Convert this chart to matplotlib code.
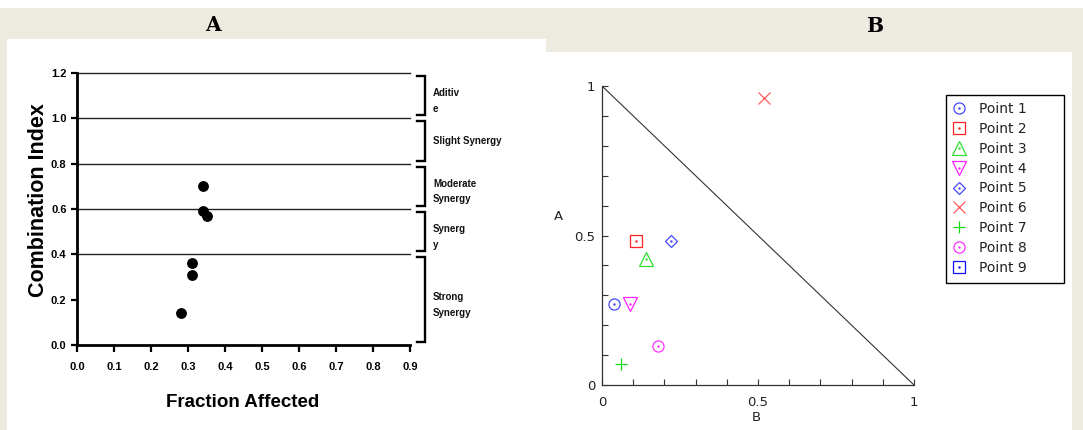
import numpy as np
import matplotlib
matplotlib.use("Agg")
import matplotlib.pyplot as plt
from matplotlib.patches import Rectangle

plt.rcParams['font.family'] = ['Liberation Sans', 'DejaVu Sans']

# panel A: combination index vs fraction affected
fraction_affected = [0.28, 0.31, 0.31, 0.34, 0.35, 0.34]
combination_index = [0.14, 0.31, 0.36, 0.59, 0.57, 0.70]
band_edges = [0.0, 0.4, 0.6, 0.8, 1.0, 1.2]
band_labels = ["Strong\nSynergy", "Synerg\ny", "Moderate\nSynergy",
               "Slight Synergy", "Aditiv\ne"]
fa_ticks = [0.0, 0.1, 0.2, 0.3, 0.4, 0.5, 0.6, 0.7, 0.8, 0.9]
ci_ticks = [0.0, 0.2, 0.4, 0.6, 0.8, 1.0, 1.2]

# panel B: isobologram points
point_names = ["Point 1", "Point 2", "Point 3", "Point 4", "Point 5",
               "Point 6", "Point 7", "Point 8", "Point 9"]
b_vals = [0.04, 0.11, 0.14, 0.09, 0.22, 0.52, 0.06, 0.18, np.nan]
a_vals = [0.27, 0.48, 0.42, 0.27, 0.48, 0.96, 0.07, 0.13, np.nan]
point_markers = ['o', 's', '^', 'v', 'D', 'x', '+', 'o', 's']
point_colors = ['#4646ff', '#ff2020', '#30e030', '#ff20ff', '#4646ff',
                '#ff5a5a', '#10dd10', '#ff30ff', '#1010ff']
marker_sizes = {'o': 8, 's': 8, '^': 10, 'v': 10, 'D': 6.5, 'x': 9, '+': 9}

W, H = 1083, 430


def px_box(x0, y0, x1, y1):
    """pixel box (top-left origin) -> figure fraction rect"""
    return [x0 / W, 1 - y1 / H, (x1 - x0) / W, (y1 - y0) / H]


def fig_rect(x0, y0, x1, y1, z, **kw):
    l, b, w, h = px_box(x0, y0, x1, y1)
    fig.add_artist(Rectangle((l, b), w, h, transform=fig.transFigure,
                             zorder=z, **kw))


fig = plt.figure(figsize=(W / 100, H / 100), dpi=100, facecolor='white')

fig_rect(0, 8, W, H, -3, color='#edeae0', lw=0)
fig_rect(7, 39, 546, H, -2, color='white', lw=0)
fig_rect(546, 52, 1072, H, -2, color='white', lw=0)
# legend box drawn separately so it can be wider than its entries
fig_rect(946, 95, 1064, 283, -1, facecolor='white', edgecolor='black', lw=1.0)

fig.text(213 / W, 1 - 25 / H, 'A', ha='center', va='center',
         family='DejaVu Serif', weight='bold', size=14.5)
fig.text(876 / W, 1 - 26 / H, 'B', ha='center', va='center',
         family='DejaVu Serif', weight='bold', size=14.5)

# ---- panel A ----
axA = fig.add_axes(px_box(77, 73, 410, 345))
axA.set_facecolor('none')
axA.set_xlim(0, 0.9)
axA.set_ylim(0, 1.2)
for y in band_edges[1:]:
    axA.axhline(y, color='#222222', lw=1.0, zorder=1, clip_on=False)
axA.scatter(fraction_affected, combination_index, s=46, color='black',
            zorder=3, clip_on=False)

for lo, hi, lab in zip(band_edges[:-1], band_edges[1:], band_labels):
    top, bot = hi - 0.013, lo + 0.013
    axA.plot([0.919, 0.9405, 0.9405, 0.919], [top, top, bot, bot],
             color='black', lw=1.7, clip_on=False, solid_joinstyle='miter')
    if '\n' in lab:
        axA.text(0.962, (lo + hi) / 2 + 0.032, lab, va='top', ha='left',
                 fontsize=7, weight='bold', linespacing=1.65, color='#111111')
    else:
        axA.text(0.962, (lo + hi) / 2, lab, va='center', ha='left',
                 fontsize=7, weight='bold', color='#111111')

for side in ('top', 'right'):
    axA.spines[side].set_visible(False)
for side in ('left', 'bottom'):
    axA.spines[side].set_linewidth(2.0)
axA.set_xticks(fa_ticks)
axA.set_xticklabels([f"{t:.1f}" for t in fa_ticks], weight='bold')
axA.set_yticks(ci_ticks)
axA.set_yticklabels([f"{t:.1f}" for t in ci_ticks], weight='bold')
axA.tick_params(axis='x', direction='out', length=5, width=1.6, labelsize=8, pad=7)
axA.tick_params(axis='y', direction='out', length=4.5, width=1.6, labelsize=8, pad=3)
axA.set_xlabel('Fraction Affected', weight='bold', fontsize=13.5)
axA.xaxis.set_label_coords(0.4985, -0.18)
axA.set_ylabel('Combination Index', weight='bold', fontsize=15.5)
axA.yaxis.set_label_coords(-0.085, 0.533)

# ---- panel B ----
axB = fig.add_axes(px_box(602, 86, 914, 385))
axB.set_facecolor('none')
axB.set_xlim(0, 1)
axB.set_ylim(0, 1)
axB.plot([0, 1], [1, 0], color='#333333', lw=0.8)

handles = []
for b, a, m, c in zip(b_vals, a_vals, point_markers, point_colors):
    h, = axB.plot([b], [a], ls='none', marker=m, ms=marker_sizes[m],
                  mfc='none', mec=c, mew=0.9, clip_on=False)
    if m in 'x+':
        handles.append(h)
    else:
        d, = axB.plot([b], [a], ls='none', marker='.', ms=1.5, color=c)
        handles.append((h, d))

leg = axB.legend(handles, point_names, loc='upper left',
                 bbox_to_anchor=(948 / W, 1 - 98 / H), bbox_transform=fig.transFigure,
                 frameon=False, borderaxespad=0,
                 prop={'family': 'DejaVu Sans', 'size': 10},
                 handlelength=1.0, handletextpad=0.95, labelspacing=0.42,
                 borderpad=0.3)
for t in leg.get_texts():
    t.set_color('#222222')

for side in ('top', 'right'):
    axB.spines[side].set_visible(False)
for side in ('left', 'bottom'):
    axB.spines[side].set_linewidth(0.9)
    axB.spines[side].set_color('#333333')
axB.set_xticks([0, 0.5, 1])
axB.set_xticklabels(['0', '0.5', '1'])
axB.set_yticks([0, 0.5, 1])
axB.set_yticklabels(['0', '0.5', '1'])
axB.set_xticks(np.arange(0, 1.01, 0.1), minor=True)
axB.set_yticks(np.arange(0, 1.01, 0.1), minor=True)
axB.tick_params(which='both', direction='in', length=4, width=0.8, color='#333333',
                labelsize=9.5, labelcolor='#222222', labelfontfamily='DejaVu Sans')
axB.tick_params(axis='x', pad=8)
axB.tick_params(axis='y', pad=5)
axB.set_xlabel('B', fontsize=9.5, family='DejaVu Sans', color='#222222')
axB.xaxis.set_label_coords(0.494, -0.087)
axB.set_ylabel('A', fontsize=9.5, family='DejaVu Sans', color='#222222',
               rotation=0, ha='center', va='center')
axB.yaxis.set_label_coords(-0.141, 0.565)

fig.savefig('out.png', dpi=100, facecolor=fig.get_facecolor())
